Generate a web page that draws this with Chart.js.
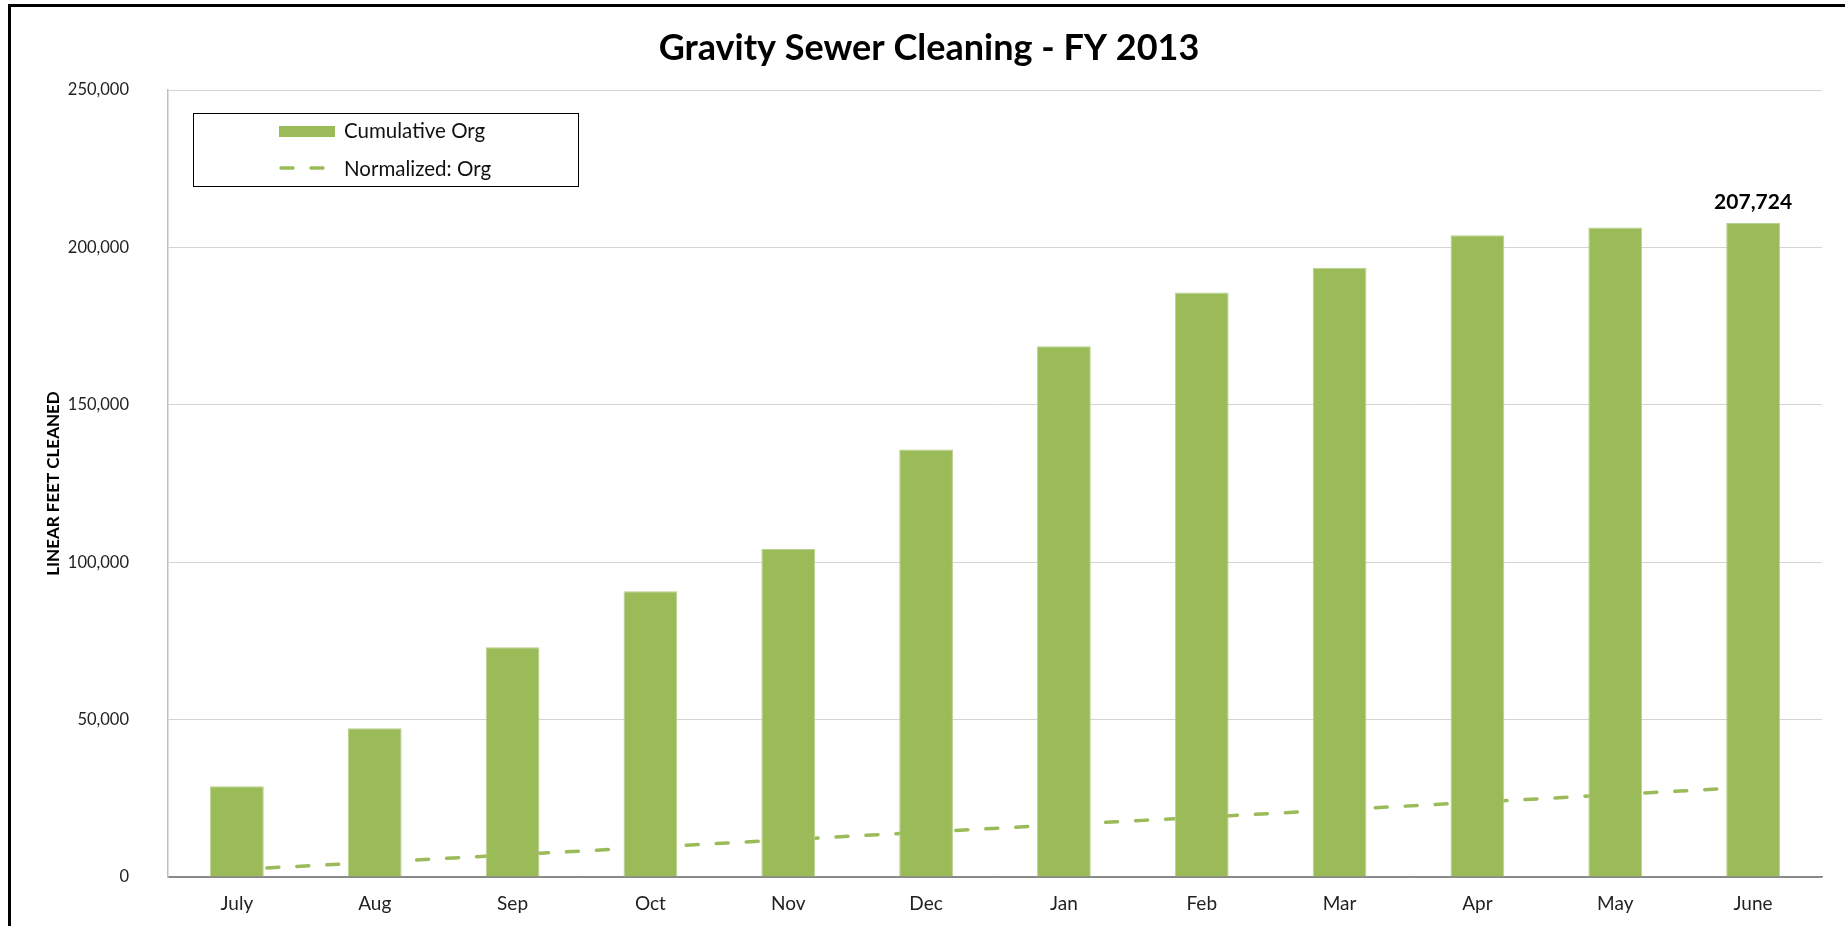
<!DOCTYPE html>
<html>
<head>
<meta charset="utf-8">
<title>Gravity Sewer Cleaning - FY 2013</title>
<script src="https://cdn.jsdelivr.net/npm/chart.js@4.4.1/dist/chart.umd.min.js"></script>
<style>
    html, body { margin: 0; padding: 0; background: #fff; }
    #wrap { width: 1845px; height: 926px; }
</style>
</head>
<body>
<div id="wrap"><canvas id="sewerChart" width="1845" height="926"></canvas></div>
<script>
//---------------------------------------------------------------------
// data
var chartTitle = 'Gravity Sewer Cleaning - FY 2013';
var yAxisTitle = 'LINEAR FEET CLEANED';
var months = ['July', 'Aug', 'Sep', 'Oct', 'Nov', 'Dec', 'Jan', 'Feb', 'Mar', 'Apr', 'May', 'June'];
var cumulativeOrg = [28870, 47270, 73030, 90800, 104220, 135820, 168620, 185720, 193530, 203900, 206350, 207724];
var normalizedOrg = [2400, 4700, 7100, 9500, 11900, 14300, 16700, 19000, 21400, 23800, 26200, 28600];
var yTicks = [0, 50000, 100000, 150000, 200000, 250000];

var green = '#9BBB59';
var fontName = 'Lato';

function fmt(v) {
    return Number(v).toLocaleString('en-US');
}

// frame, title, the single data label and the boxed legend inside the plot
var sheetDecor = {
    id: 'sheetDecor',
    beforeDraw: function (chart) {
        var ctx = chart.ctx;
        ctx.save();
        ctx.fillStyle = '#fff';
        ctx.fillRect(0, 0, chart.width, chart.height);
        ctx.restore();
    },
    afterDraw: function (chart) {
        var ctx = chart.ctx;
        ctx.save();

        // outer frame (only top and left edges show)
        ctx.fillStyle = '#000';
        ctx.fillRect(8, 4, chart.width - 8, 3);
        ctx.fillRect(8, 4, 3, chart.height - 4);

        // title
        ctx.fillStyle = '#000';
        ctx.font = 'bold 36px ' + fontName;
        ctx.textAlign = 'center';
        ctx.textBaseline = 'alphabetic';
        ctx.fillText(chartTitle, 929, 60);

        // value on the last bar
        var meta = chart.getDatasetMeta(0);
        var lastIdx = meta.data.length - 1;
        var lastBar = meta.data[lastIdx];
        ctx.font = 'bold 21px ' + fontName;
        ctx.fillText(fmt(chart.data.datasets[0].data[lastIdx]), lastBar.x, lastBar.y - 14);

        // legend box
        var ds = chart.data.datasets;
        ctx.fillStyle = '#fff';
        ctx.fillRect(193, 113, 385, 73);
        ctx.strokeStyle = '#000';
        ctx.lineWidth = 1;
        ctx.strokeRect(193.5, 113.5, 385, 73);

        ctx.fillStyle = ds[0].backgroundColor;
        ctx.fillRect(279, 126, 56, 11);

        ctx.strokeStyle = ds[1].borderColor;
        ctx.lineWidth = 3.5;
        ctx.lineCap = 'round';
        ctx.setLineDash(ds[1].borderDash);
        ctx.beginPath();
        ctx.moveTo(281, 168);
        ctx.lineTo(325, 168);
        ctx.stroke();
        ctx.setLineDash([]);

        ctx.fillStyle = '#111';
        ctx.font = '20.5px ' + fontName;
        ctx.textAlign = 'left';
        ctx.textBaseline = 'middle';
        ctx.fillText(ds[0].label, 344, 131);
        ctx.fillText(ds[1].label, 344, 169);

        ctx.restore();
    }
};

var ctx = document.getElementById('sewerChart');
var sewerChart = new Chart(ctx, {
    type: 'bar',
    data: {
        labels: months,
        datasets: [
            {
                type: 'bar',
                label: 'Cumulative Org',
                data: cumulativeOrg,
                backgroundColor: green,
                borderColor: '#b9d18e',
                borderWidth: 1,
                categoryPercentage: 1,
                barPercentage: 0.39,
                order: 1
            },
            {
                type: 'line',
                label: 'Normalized: Org',
                data: normalizedOrg,
                borderColor: green,
                borderWidth: 3.5,
                borderDash: [12, 18],
                borderCapStyle: 'round',
                pointRadius: 0,
                fill: false,
                tension: 0,
                order: 2
            }
        ]
    },
    options: {
        responsive: false,
        animation: false,
        devicePixelRatio: 1,
        layout: { padding: { left: 12, right: 23, top: 90, bottom: 0 } },
        plugins: {
            legend: { display: false },
            title: { display: false },
            tooltip: { enabled: false }
        },
        scales: {
            x: {
                grid: { display: false, drawTicks: false },
                border: { display: true, color: '#898989', width: 1.5 },
                ticks: { color: '#222', font: { family: fontName, size: 19 }, padding: 15 },
                afterFit: function (scale) { scale.height = 48; }
            },
            y: {
                min: 0,
                max: 250000,
                afterBuildTicks: function (scale) {
                    scale.ticks = yTicks.map(function (v) { return { value: v }; });
                },
                grid: {
                    drawTicks: false,
                    lineWidth: 1,
                    color: function (c) { return c.tick && c.tick.value === 0 ? '#898989' : '#d4d4d4'; }
                },
                border: { color: '#bfbfbf', width: 1.5 },
                ticks: {
                    color: '#222',
                    font: { family: fontName, size: 16.5 },
                    padding: 39,
                    callback: function (v) { return fmt(v); }
                },
                title: {
                    display: true,
                    text: yAxisTitle,
                    color: '#000',
                    font: { family: fontName, size: 17, weight: 'bold' },
                    padding: 31
                },
                afterFit: function (scale) { scale.width = 156; }
            }
        }
    },
    plugins: [sheetDecor]
});
</script>
</body>
</html>
